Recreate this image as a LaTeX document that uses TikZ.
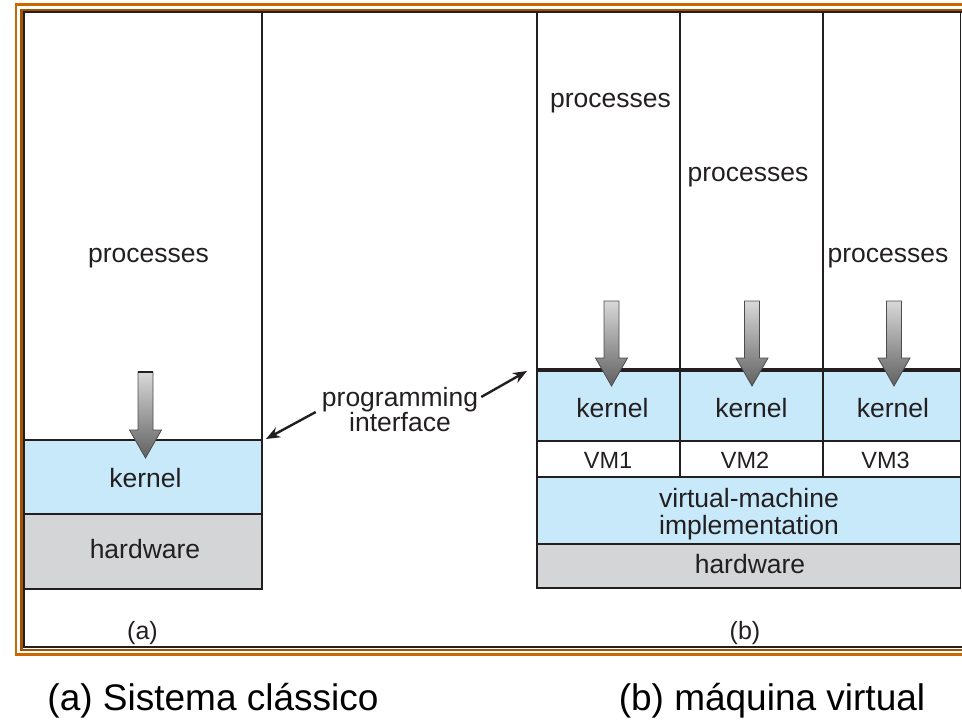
\documentclass[tikz,border=0pt]{standalone}
\usepackage{fontspec}
\setmainfont{Liberation Sans}
\usetikzlibrary{arrows.meta}

\definecolor{kernelblue}{RGB}{200,233,249}
\definecolor{hwgray}{RGB}{211,213,214}
\definecolor{frameorange}{RGB}{204,102,0}
\definecolor{inkgray}{RGB}{35,31,32}

\tikzset{
	layer/.style={draw=inkgray, line width=1.5pt},
	lbl/.style={font=\fontsize{26.5}{25}\selectfont, text=inkgray, inner sep=0pt},
	vmlbl/.style={font=\fontsize{23.5}{23.5}\selectfont, text=inkgray, inner sep=0pt},
	caption/.style={font=\fontsize{37}{37}\selectfont, text=black, inner sep=0pt},
	pointer/.style={-{Stealth[length=14pt,width=11pt]}, line width=2.4pt, inkgray}
}

% down arrow: x, top of shaft, tip
\newcommand{\callarrow}[3]{%
	\shadedraw[draw=black!70, line width=0.8pt, top color=black!15, bottom color=black!62]
		(#1-7.5,#2) -- (#1+7.5,#2) -- (#1+7.5,#3-28) -- (#1+16,#3-28)
		-- (#1,#3) -- (#1-16,#3-28) -- (#1-7.5,#3-28) -- cycle;
}

\begin{document}
\begin{tikzpicture}[x=1pt, y=-1pt]
	\clip (0,0) rectangle (962,720);
	% frame
	\draw[frameorange, line width=2.5pt] (16,4.5) rectangle (1000,654.5);
	\draw[frameorange!80!black, line width=2.5pt] (21.5,10) rectangle (1000,650);
	\draw[inkgray, line width=2pt] (24,12) rectangle (1000,647);
	% (a) classic system
	\fill[kernelblue] (24,440) rectangle (262,514);
	\fill[hwgray] (24,514) rectangle (262,589);
	\draw[layer] (24,12) rectangle (262,589);
	\draw[layer] (24,440) -- (262,440);
	\draw[layer] (24,514) -- (262,514);
	\node[lbl, anchor=base] (procA) at (148.5,262) {processes};
	\node[lbl, anchor=base] (kernA) at (145.5,487) {kernel};
	\node[lbl, anchor=base] (hwA) at (145,558) {hardware};
	\callarrow{145.5}{372}{458}
	\draw[inkgray, line width=1.5pt] (138,372) -- (153,372);
	\coordinate (ifaceA) at (266,439);
	\node[lbl, anchor=base, font=\fontsize{25}{25}\selectfont] (labA) at (142.5,639) {(a)};
	% (b) virtual machine
	\fill[kernelblue] (537,370) rectangle (961,441);
	\fill[kernelblue] (537,477) rectangle (961,544);
	\fill[hwgray] (537,544) rectangle (961,588);
	\draw[layer] (537,12) rectangle (960.5,588);
	\draw[layer] (680,12) -- (680,477);
	\draw[layer] (823,12) -- (823,477);
	\draw[layer] (537,441) -- (961,441);
	\draw[layer] (537,477) -- (961,477);
	\draw[layer] (537,544) -- (961,544);
	\draw[inkgray, line width=4pt] (537,370) -- (961,370);
	\node[lbl, anchor=base] (procB1) at (610.5,107) {processes};
	\node[lbl, anchor=base] (procB2) at (748,181) {processes};
	\node[lbl, anchor=base] (procB3) at (888,262) {processes};
	\callarrow{611.5}{301}{386}
	\callarrow{752}{301}{386}
	\callarrow{894}{301}{386}
	\node[lbl, anchor=base] (kernB1) at (612.5,417) {kernel};
	\node[lbl, anchor=base] (kernB2) at (751.5,417) {kernel};
	\node[lbl, anchor=base] (kernB3) at (893,417) {kernel};
	\node[vmlbl, anchor=base] (vm1) at (608,468) {VM1};
	\node[vmlbl, anchor=base] (vm2) at (745,468) {VM2};
	\node[vmlbl, anchor=base] (vm3) at (885.5,468) {VM3};
	\node[lbl, align=center, font=\fontsize{26.5}{27}\selectfont] (vmi) at (749,514) {virtual-machine\\implementation};
	\node[lbl, anchor=base] (hwB) at (750,573) {hardware};
	\coordinate (ifaceB) at (527,371);
	\node[lbl, anchor=base, font=\fontsize{25}{25}\selectfont] (labB) at (745,639) {(b)};
	% programming interface
	\node[lbl, align=center] (iface) at (400,410) {programming\\interface};
	\draw[pointer] ([xshift=-6pt, yshift=-2pt]iface.west) -- (ifaceA);
	\draw[pointer] ([xshift=3pt, yshift=13pt]iface.east) -- (ifaceB);
	% captions
	\node[caption, anchor=base] (titleA) at (213,710) {(a) Sistema clássico};
	\node[caption, anchor=base] (titleB) at (772,710) {(b) máquina virtual};
\end{tikzpicture}
\end{document}
